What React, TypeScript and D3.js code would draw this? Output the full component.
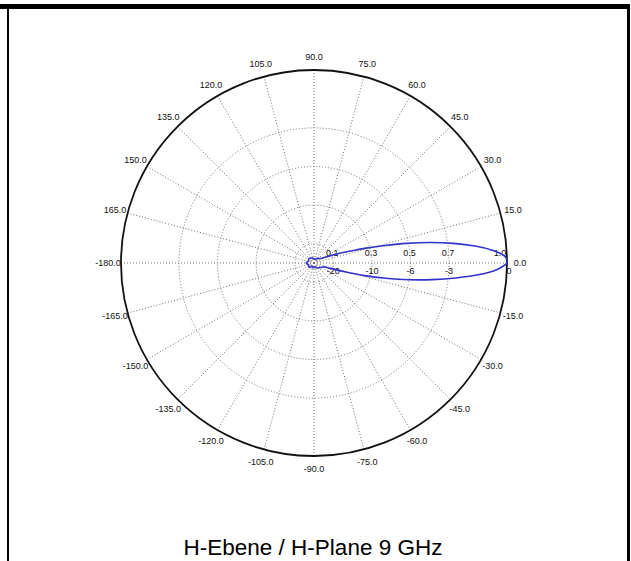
import * as d3 from "d3";

// polar grid
const angleTicks = [-165, -150, -135, -120, -105, -90, -75, -60, -45, -30, -15, 0, 15, 30, 45, 60, 75, 90, 105, 120, 135, 150, 165, 180];
const angleLabels = ["-165.0", "-150.0", "-135.0", "-120.0", "-105.0", "-90.0", "-75.0", "-60.0", "-45.0", "-30.0", "-15.0", "0.0", "15.0", "30.0", "45.0", "60.0", "75.0", "90.0", "105.0", "120.0", "135.0", "150.0", "165.0", "-180.0"];
const ringValues = [0.1, 0.3, 0.5, 0.7, 1.0];
const ringLabels = ["0.1", "0.3", "0.5", "0.7", "1.0"];
const dbLabels = ["-20", "-10", "-6", "-3", "0"];

// measured pattern (linear amplitude)
const patternAngles = [-180, -160, -140, -120, -100, -80, -60, -45, -35, -30, -25, -20, -18, -16, -14, -12, -10, -8, -6, -4, -2, 0, 2, 4, 6, 8, 10, 12, 14, 16, 18, 20, 22, 25, 30, 35, 45, 60, 80, 100, 120, 140, 160, 180];
const patternValues = [0.042, 0.03, 0.035, 0.02, 0.025, 0.02, 0.03, 0.035, 0.04, 0.045, 0.05, 0.06, 0.09, 0.16, 0.27, 0.38, 0.5, 0.62, 0.74, 0.86, 0.95, 1.0, 0.99, 0.93, 0.84, 0.73, 0.61, 0.49, 0.37, 0.28, 0.2, 0.16, 0.12, 0.08, 0.05, 0.04, 0.035, 0.025, 0.02, 0.025, 0.03, 0.035, 0.03, 0.042];

const cx = 314, cy = 263, R = 193;
const rad = (deg: number) => (deg * Math.PI) / 180;

export default function App() {
  const r = d3.scaleLinear([0, 1], [0, R]);
  const px = (deg: number, v: number) => cx + r(v) * Math.cos(rad(deg));
  const py = (deg: number, v: number) => cy - r(v) * Math.sin(rad(deg));

  const pts = patternAngles.map((a, i) => [a, patternValues[i]] as [number, number]);
  const radial = d3.lineRadial<[number, number]>()
    .angle((d) => Math.PI / 2 - rad(d[0]))
    .radius((d) => r(d[1]))
    .curve(d3.curveCardinal.tension(0.3));

  const font = "Liberation Sans, Arial, sans-serif";

  return (
    <svg width={631} height={561} style={{ position: "absolute", left: 0, top: 0, background: "#fff" }}>
      <rect x={0} y={4} width={630} height={5} fill="#000" />
      <rect x={7} y={4} width={2} height={557} fill="#000" />
      <rect x={627} y={4} width={3} height={557} fill="#000" />

      <g fill="none" stroke="#707070" strokeWidth={1} strokeDasharray="1,2">
        {ringValues.slice(0, -1).map((v) => (
          <circle key={v} cx={cx} cy={cy} r={r(v)} />
        ))}
        {angleTicks.map((a) => (
          <line key={a} x1={cx} y1={cy} x2={px(a, 1)} y2={py(a, 1)} />
        ))}
      </g>
      <circle cx={cx} cy={cy} r={R} fill="none" stroke="#111" strokeWidth={1.8} />

      <g fontFamily={font} fontSize={9} fill="#111" textAnchor="middle" dominantBaseline="central">
        {angleTicks.map((a, i) => (
          <text key={a} x={px(a, 1) + 13 * Math.cos(rad(a))} y={py(a, 1) - 13 * Math.sin(rad(a))}>
            {angleLabels[i]}
          </text>
        ))}
        {ringValues.map((v, i) => (
          <text key={"l" + v} x={i === ringValues.length - 1 ? px(0, v) - 7 : px(0, v) - 1} y={cy - 10}>
            {ringLabels[i]}
          </text>
        ))}
        {ringValues.map((v, i) => (
          <text key={"d" + v} x={i === ringValues.length - 1 ? px(0, v) + 2 : px(0, v)} y={cy + 8}>
            {dbLabels[i]}
          </text>
        ))}
      </g>

      <path d={radial(pts) ?? ""} transform={`translate(${cx},${cy})`} fill="none" stroke="#3232cc" strokeWidth={1.6} />

      <text x={313} y={555} textAnchor="middle" fontFamily={font} fontSize={22.5} fill="#000">
        H-Ebene / H-Plane 9 GHz
      </text>
    </svg>
  );
}
